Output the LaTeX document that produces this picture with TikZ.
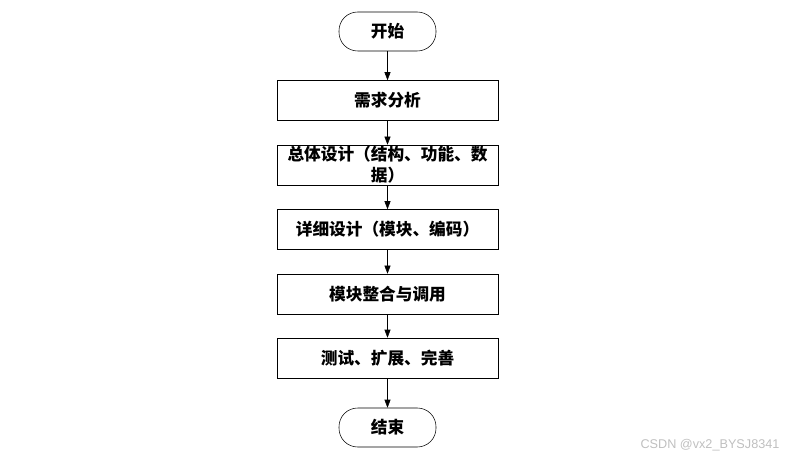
\documentclass[tikz,border=0pt]{standalone}
\usepackage{fontspec}
\newfontfamily\cjk{Noto Sans CJK SC}
\setsansfont{Liberation Sans}
\usetikzlibrary{arrows.meta}
\tikzset{
  terminal/.style={draw, rounded corners=14pt, minimum width=72.75pt, minimum height=29.25pt, font=\cjk\bfseries\fontsize{12.5}{15}\selectfont},
  process/.style={draw, minimum width=165.75pt, minimum height=30pt, align=center, font=\cjk\bfseries\fontsize{12.5}{16}\selectfont},
  flow/.style={-{Triangle[length=6pt,width=4.5pt]}}
}
\begin{document}
\begin{tikzpicture}[x=0.75pt,y=0.75pt,yscale=-1,xscale=1]
\useasboundingbox (0,0) rectangle (795,459);

% terminals
\node [terminal] (start) at (387.5,31.5) {开始};
\node [terminal] (stop) at (387.5,427.5) {结束};

% steps
\node [process] (need) at (387.5,100.5) {需求分析};
\node [process, inner sep=0pt] (overall) at (387.5,165) {总体设计（结构、功能、数\\据）};
\node [process] (detail) at (387.5,229.5) {详细设计（模块、编码）};
\node [process] (merge) at (387.5,294) {模块整合与调用};
\node [process] (test) at (387.5,358) {测试、扩展、完善};

% connectors
\draw [flow] (start) -- (need);
\draw [flow] (need) -- (overall);
\draw [flow] (overall) -- (detail);
\draw [flow] (detail) -- (merge);
\draw [flow] (merge) -- (test);
\draw [flow] (test) -- (stop);

% watermark
\node [text=black!25, font=\sffamily\fontsize{9.5}{11}\selectfont] (mark) at (710,445) {CSDN @vx2\_BYSJ8341};
\end{tikzpicture}
\end{document}
